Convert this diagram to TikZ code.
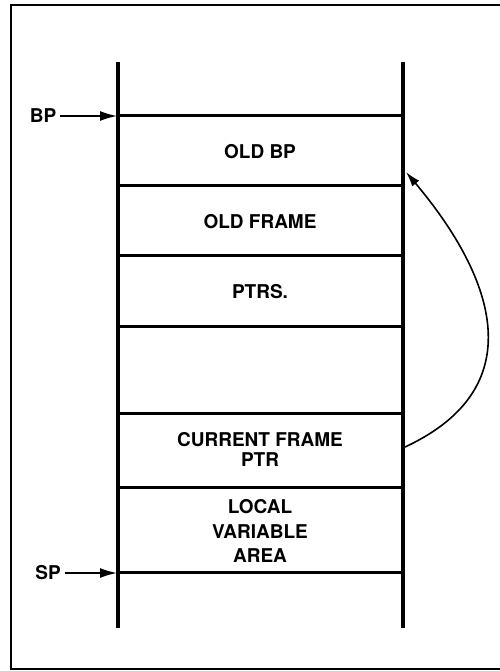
\documentclass[tikz,border=0pt]{standalone}
\usepackage{fontspec}
\setmainfont{TeX Gyre Heros}
\usetikzlibrary{positioning,arrows.meta}
\begin{document}
\begin{tikzpicture}[x=1pt, y=-1pt, every node/.style={font=\fontsize{19}{20}\selectfont\bfseries}]
\tikzstyle{rail}=[line width=3.6pt]
\tikzstyle{slot}=[line width=3pt]
\tikzstyle{cell}=[align=center, inner sep=0pt]
\tikzstyle{reg}=[inner sep=4pt]
\tikzstyle{ptr}=[-{Latex[length=17pt,width=10pt]}, line width=1.6pt]
\useasboundingbox (0,0) rectangle (499,671);
\draw[line width=1.6pt] (11,5) rectangle (530,669);
% stack
\draw[rail] (118,62) -- (118,628);
\draw[rail] (403,62) -- (403,628);
\foreach \y in {116,185,255,326,413,487,572}
  \draw[slot] (118,\y) -- (403,\y);
\node[cell] (oldbp) at (260,152) {OLD BP};
\node[cell] (oldframe) at (260,222) {OLD FRAME};
\node[cell] (ptrs) at (260,292) {PTRS.};
\node[cell] (curframe) at (260,449) {CURRENT FRAME\\PTR};
\node[cell, font=\fontsize{19}{24.5}\selectfont\bfseries] (local) at (260,531) {LOCAL\\VARIABLE\\AREA};
% registers
\node[reg] (bp) at (43,116) {BP};
\node[reg] (sp) at (48,573) {SP};
\coordinate (bptop) at (117,116);
\coordinate (sptop) at (117,573);
\draw[ptr] (bp) -- (bptop);
\draw[ptr] (sp) -- (sptop);
% link back to old BP
\coordinate (cfp) at (405,447);
\coordinate (obp) at (406,172);
\draw[ptr, -{Latex[length=15pt,width=9pt]}] (cfp) .. controls (532,388) and (496,279) .. (obp);
\end{tikzpicture}
\end{document}
